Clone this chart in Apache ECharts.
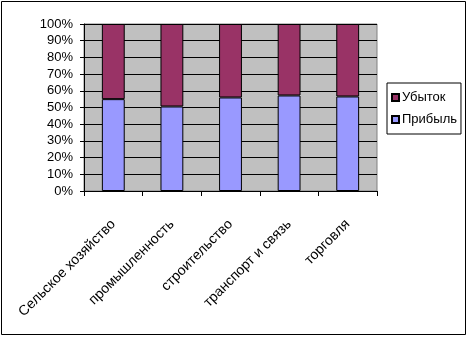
<!DOCTYPE html>
<html><head><meta charset="utf-8">
<script src="https://cdn.jsdelivr.net/npm/echarts@6/dist/echarts.min.js"></script>
<style>html,body{margin:0;padding:0;background:#fff}#c{width:468px;height:337px}</style>
</head><body><div id="c"></div>
<script>
const categories = ['Сельское хозяйство', 'промышленность', 'строительство', 'транспорт и связь', 'торговля'];
const profit = [55, 50.6, 56, 57.2, 56.6];
const loss = [45, 49.4, 44, 42.8, 43.4];
const yTicks = [0, 10, 20, 30, 40, 50, 60, 70, 80, 90, 100];

const FONT = '"Liberation Sans", Arial, sans-serif';
const chart = echarts.init(document.getElementById('c'), null, {renderer: 'canvas'});
chart.setOption({
  animation: false,
  backgroundColor: '#fff',
  graphic: [{type: 'rect', shape: {x: 1.5, y: 1.5, width: 464, height: 333}, style: {fill: 'none', stroke: '#000', lineWidth: 1}, silent: true, z: -1}],
  grid: {left: 84, top: 24, width: 293, height: 167, show: true, backgroundColor: '#C0C0C0', borderColor: '#808080', borderWidth: 1, containLabel: false},
  legend: {
    data: ['Убыток', 'Прибыль'], orient: 'vertical', left: 387, top: 83,
    icon: 'rect', itemWidth: 7, itemHeight: 7, itemGap: 7,
    borderColor: '#000', borderWidth: 1, padding: [7, 4, 7, 4],
    textStyle: {fontFamily: FONT, fontSize: 13, lineHeight: 15, color: '#000', padding: [0, 0, 0, -2]}
  },
  xAxis: {
    type: 'category', data: categories, boundaryGap: true,
    axisLine: {lineStyle: {color: '#000', width: 1}},
    axisTick: {show: true, alignWithLabel: false, length: 5, lineStyle: {color: '#000'}},
    axisLabel: {interval: 0, rotate: 45, margin: 31, fontFamily: FONT, fontSize: 14, color: '#000'}
  },
  yAxis: {
    type: 'value', min: yTicks[0], max: yTicks[yTicks.length - 1], interval: 10,
    axisLine: {show: true, lineStyle: {color: '#000'}},
    axisTick: {show: true, length: 4, lineStyle: {color: '#000'}},
    splitLine: {show: true, lineStyle: {color: '#000', width: 1}},
    axisLabel: {formatter: '{value}%', margin: 11, fontFamily: FONT, fontSize: 13, color: '#000'}
  },
  series: [
    {name: 'Прибыль', type: 'bar', stack: 's', data: profit, barWidth: '39%',
     itemStyle: {color: '#9999FF', borderColor: '#000', borderWidth: 1}},
    {name: 'Убыток', type: 'bar', stack: 's', data: loss, barWidth: '39%',
     itemStyle: {color: '#993366', borderColor: '#000', borderWidth: 1}}
  ]
});
</script></body></html>
